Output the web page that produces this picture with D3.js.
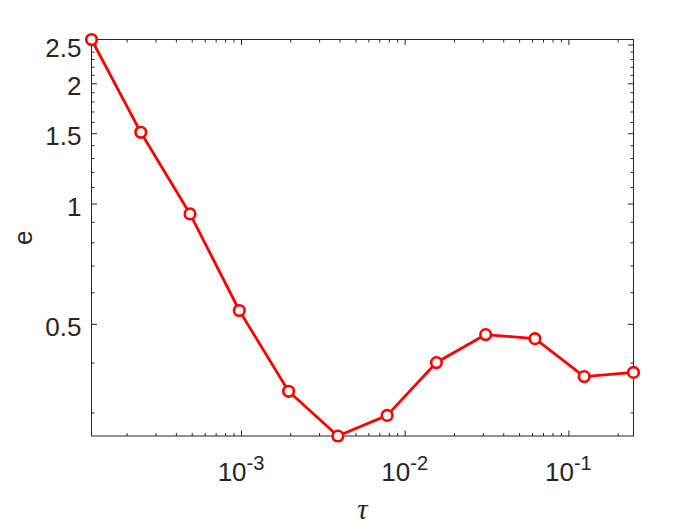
<!DOCTYPE html>
<html>
<head>
<meta charset="utf-8">
<script src="https://cdn.jsdelivr.net/npm/d3@7"></script>
<style>
  html, body { margin: 0; padding: 0; background: #fff; }
  svg { display: block; }
</style>
</head>
<body>
<svg id="chart" width="700" height="525"></svg>
<script>
// ---- data ----
const tau = [0.0001220703125, 0.000244140625, 0.00048828125, 0.0009765625,
             0.001953125, 0.00390625, 0.0078125, 0.015625, 0.03125,
             0.0625, 0.125, 0.25];
const errVals = [2.574, 1.508, 0.942, 0.540, 0.339, 0.262, 0.295, 0.400,
                 0.470, 0.459, 0.369, 0.378];
const xMajorTicks = [1e-3, 1e-2, 1e-1];
const xMajorExponents = ["-3", "-2", "-1"];
const yMajorTicks = [0.5, 1, 1.5, 2, 2.5];
const yMajorLabels = ["0.5", "1", "1.5", "2", "2.5"];
const xLabel = "τ";
const yLabel = "e";

// ---- layout ----
const L = 91.5, R = 633.5, T = 39.5, B = 436;
const axisColor = "#262626";
const lineColor = "#ff0000";
const fontSans = "'Liberation Sans', Arial, Helvetica, sans-serif";

const svg = d3.select("#chart");

const x = d3.scaleLog().domain([tau[0], tau[tau.length - 1]]).range([L, R]);
const y = d3.scaleLog().domain(d3.extent(errVals)).range([B, T]);

// minor ticks
const xMinor = [];
for (let e = -4; e <= -1; e++) {
  for (let m = 1; m <= 9; m++) {
    const v = m * Math.pow(10, e);
    if (v >= x.domain()[0] && v <= x.domain()[1] && !xMajorTicks.some(t => Math.abs(t - v) / v < 1e-9)) xMinor.push(v);
  }
}
const yMinor = [];
for (let k = 1; k <= 30; k++) {
  const v = k / 10;
  if (v >= y.domain()[0] && v <= y.domain()[1] && !yMajorTicks.some(t => Math.abs(t - v) < 1e-9)) yMinor.push(v);
}

const majorLen = 5.5, minorLen = 3;

function drawAxis(gen, tickVals, len, transform) {
  const g = svg.append("g").attr("transform", transform)
    .call(gen.tickValues(tickVals).tickSizeInner(-len).tickSizeOuter(0).tickFormat(""));
  g.select(".domain").remove();
  g.selectAll(".tick line").attr("stroke", axisColor).attr("stroke-width", 1);
  g.selectAll(".tick text").remove();
  return g;
}

// bottom / top
drawAxis(d3.axisBottom(x), xMajorTicks, majorLen, `translate(0,${B})`);
drawAxis(d3.axisBottom(x), xMinor, minorLen, `translate(0,${B})`);
drawAxis(d3.axisTop(x), xMajorTicks, -majorLen, `translate(0,${T})`).selectAll(".tick line").attr("y2", majorLen);
drawAxis(d3.axisTop(x), xMinor, -minorLen, `translate(0,${T})`).selectAll(".tick line").attr("y2", minorLen);
// left / right
drawAxis(d3.axisLeft(y), yMajorTicks, majorLen, `translate(${L},0)`);
drawAxis(d3.axisLeft(y), yMinor, minorLen, `translate(${L},0)`);
drawAxis(d3.axisRight(y), yMajorTicks, majorLen, `translate(${R},0)`);
drawAxis(d3.axisRight(y), yMinor, minorLen, `translate(${R},0)`);

// box
svg.append("rect")
  .attr("x", L).attr("y", T).attr("width", R - L).attr("height", B - T)
  .attr("fill", "none").attr("stroke", axisColor).attr("stroke-width", 1);

// x tick labels
xMajorTicks.forEach((v, i) => {
  const t = svg.append("text")
    .attr("x", x(v)).attr("y", B + 45)
    .attr("text-anchor", "middle")
    .attr("font-family", fontSans).attr("font-size", 26).attr("fill", axisColor);
  t.append("tspan").text("10");
  t.append("tspan").attr("font-size", 20).attr("dy", -11).text(xMajorExponents[i]);
});

// y tick labels
yMajorTicks.forEach((v, i) => {
  svg.append("text")
    .attr("x", L - 10).attr("y", y(v) + 12)
    .attr("text-anchor", "end")
    .attr("font-family", fontSans).attr("font-size", 26).attr("fill", axisColor)
    .text(yMajorLabels[i]);
});

// axis titles
svg.append("text")
  .attr("x", (L + R) / 2).attr("y", 519)
  .attr("text-anchor", "middle")
  .attr("font-family", "'Liberation Serif', 'DejaVu Serif', serif")
  .attr("font-style", "italic").attr("font-size", 29).attr("fill", axisColor)
  .text(xLabel);

svg.append("text")
  .attr("transform", `translate(32,${(T + B) / 2}) rotate(-90)`)
  .attr("text-anchor", "middle")
  .attr("font-family", fontSans).attr("font-size", 26).attr("fill", axisColor)
  .text(yLabel);

// data line
const data = tau.map((t, i) => ({ t, e: errVals[i] }));
svg.append("path")
  .datum(data)
  .attr("fill", "none").attr("stroke", lineColor).attr("stroke-width", 2.8)
  .attr("stroke-linejoin", "round")
  .attr("d", d3.line().x(d => x(d.t)).y(d => y(d.e)));

svg.selectAll("circle.pt")
  .data(data).enter().append("circle")
  .attr("class", "pt")
  .attr("cx", d => x(d.t)).attr("cy", d => y(d.e))
  .attr("r", 5.3)
  .attr("fill", "#fff").attr("stroke", lineColor).attr("stroke-width", 2.6);
</script>
</body>
</html>
